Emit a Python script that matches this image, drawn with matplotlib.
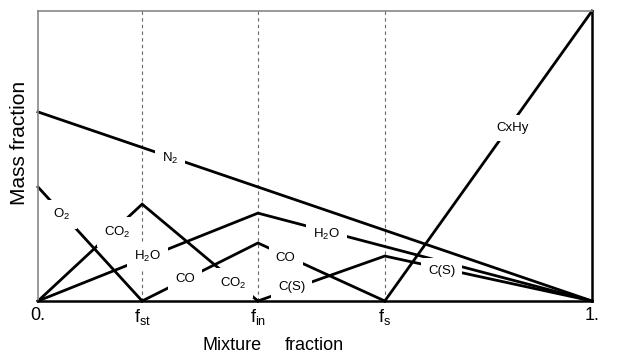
import matplotlib
matplotlib.use("Agg")
import matplotlib.pyplot as plt

plt.rcParams['font.family'] = ['Liberation Sans', 'DejaVu Sans']
plt.rcParams['mathtext.fontset'] = 'custom'
plt.rcParams['mathtext.rm'] = 'Liberation Sans'
plt.rcParams['mathtext.it'] = 'Liberation Sans'

# key mixture fractions
f_st, f_in, f_s = 0.188, 0.397, 0.626
tick_pos = [0.0, f_st, f_in, f_s, 1.0]
tick_labels = ['0.', r'f$_{\mathrm{st}}$', r'f$_{\mathrm{in}}$', r'f$_{\mathrm{s}}$', '1.']

# species profiles
n2_x, n2_y = [0.0, 1.0], [0.652, 0.0]
o2_x, o2_y = [0.0, f_st], [0.393, 0.0]
co2_x, co2_y = [0.0, f_st, f_in], [0.0, 0.334, 0.0]
h2o_x, h2o_y = [0.0, f_in, 1.0], [0.0, 0.303, 0.0]
co_x, co_y = [f_st, f_in, f_s], [0.0, 0.200, 0.0]
cs_x, cs_y = [f_in, f_s, 1.0], [0.0, 0.155, 0.0]
cxhy_x, cxhy_y = [f_s, 1.0], [0.0, 1.0]

fig = plt.figure(figsize=(6.17, 3.56), dpi=100)
ax = fig.add_axes([38/617, 1-301/356, (592-38)/617, (301-11)/356])
ax.set_xlim(0, 1)
ax.set_ylim(0, 1)

for xv in [f_st, f_in, f_s]:
    ax.axvline(xv, color='#666666', lw=0.8, ls=(0, (3, 3)), zorder=1)

lw = 2.0
for xs, ys in [(n2_x, n2_y), (o2_x, o2_y), (co2_x, co2_y), (h2o_x, h2o_y),
               (co_x, co_y), (cs_x, cs_y), (cxhy_x, cxhy_y)]:
    ax.plot(xs, ys, color='black', lw=lw, solid_joinstyle='miter', zorder=2, clip_on=False)

labels = [
    (r'N$_2$', 0.238, 0.493),
    (r'O$_2$', 0.043, 0.297),
    (r'CO$_2$', 0.144, 0.238),
    (r'H$_2$O', 0.197, 0.155),
    ('CO', 0.265, 0.076),
    (r'CO$_2$', 0.352, 0.062),
    ('CO', 0.447, 0.148),
    ('C(S)', 0.458, 0.048),
    (r'H$_2$O', 0.521, 0.231),
    ('C(S)', 0.729, 0.103),
    ('CxHy', 0.856, 0.597),
]
for txt, x, y in labels:
    ax.text(x, y, txt, fontsize=9.5, ha='center', va='center', zorder=3,
            bbox=dict(facecolor='white', edgecolor='none', pad=5))

for side in ['left', 'top']:
    ax.spines[side].set_color('#888888')
    ax.spines[side].set_linewidth(1.2)
for side in ['right', 'bottom']:
    ax.spines[side].set_color('black')
    ax.spines[side].set_linewidth(1.8)

ax.set_yticks([])
ax.set_xticks(tick_pos)
ax.set_xticklabels(tick_labels, fontsize=13)
ax.tick_params(axis='x', length=0, pad=4)

fig.text(20/617, 1-143/356, 'Mass fraction', rotation=90, fontsize=15,
         ha='center', va='center')
fig.text(232/617, 1-345/356, 'Mixture', fontsize=13, ha='center', va='center')
fig.text(314/617, 1-345/356, 'fraction', fontsize=13, ha='center', va='center')

fig.savefig('out.png', dpi=100)
